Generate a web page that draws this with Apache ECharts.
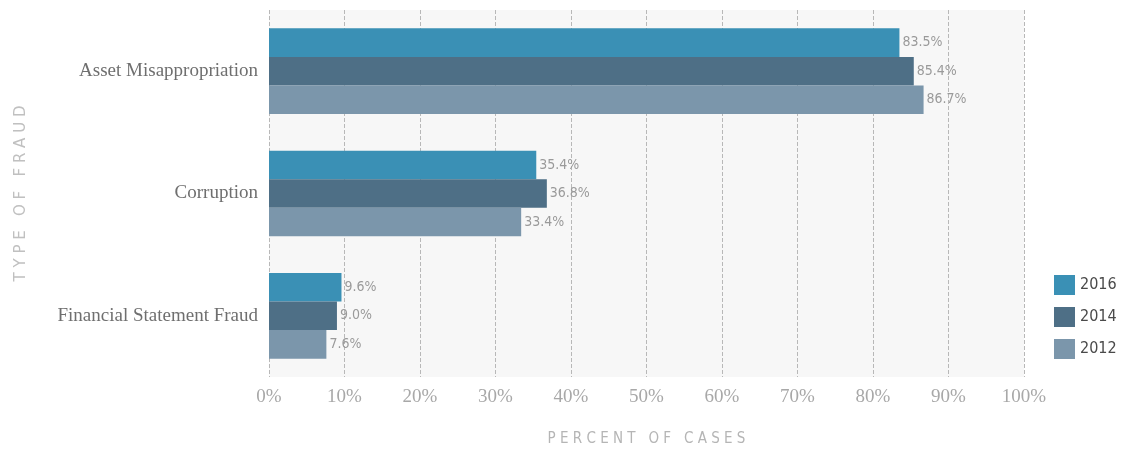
<!DOCTYPE html>
<html><head><meta charset="utf-8">
<script src="https://cdn.jsdelivr.net/npm/echarts@6/dist/echarts.min.js"></script>
<style>html,body{margin:0;padding:0;background:#fff}#c{width:1126px;height:455px}</style>
</head><body><div id="c"></div>
<script>
var categories = ['Asset Misappropriation', 'Corruption', 'Financial Statement Fraud'];
var years = ['2016', '2014', '2012'];
var values2016 = [83.5, 35.4, 9.6];
var values2014 = [85.4, 36.8, 9.0];
var values2012 = [86.7, 33.4, 7.6];
var colors = ['#3a90b5', '#4e6f86', '#7b96ab'];
var seriesValues = [values2016, values2014, values2012];

var chart = echarts.init(document.getElementById('c'));
chart.setOption({
  animation: false,
  backgroundColor: '#ffffff',
  grid: { left: 269, right: 102, top: 10, bottom: 78, show: true, backgroundColor: '#f7f7f7', borderWidth: 0 },
  legend: {
    orient: 'vertical', left: 1049, top: 270, icon: 'rect',
    itemWidth: 21, itemHeight: 20, itemGap: 12,
    data: years,
    textStyle: { fontFamily: 'DejaVu Sans Condensed', fontSize: 16, color: '#4a4a4a' }
  },
  xAxis: {
    type: 'value', min: 0, max: 100, interval: 10,
    axisLine: { show: false }, axisTick: { show: false },
    splitLine: { show: true, lineStyle: { type: 'dashed', color: '#b8b8b8', width: 1 } },
    axisLabel: { formatter: '{value}%', fontFamily: 'Liberation Serif', fontSize: 19, color: '#a8a8a8', margin: 11 },
    name: 'P E R C E N T   O F   C A S E S', nameLocation: 'middle', nameGap: 55,
    nameTextStyle: { fontFamily: 'DejaVu Sans Condensed', fontSize: 15, color: '#b5b5b5' }
  },
  yAxis: {
    type: 'category', data: categories, inverse: true,
    axisLine: { show: false }, axisTick: { show: false },
    axisLabel: { fontFamily: 'Liberation Serif', fontSize: 19, color: '#6f6f6f', margin: 11 },
    name: 'T Y P E   O F   F R A U D', nameLocation: 'middle', nameGap: 240, nameRotate: 90,
    nameTextStyle: { fontFamily: 'DejaVu Sans', fontSize: 15, color: '#c0c0c0' }
  },
  series: years.map(function (y, i) {
    return {
      name: y, type: 'bar', data: seriesValues[i],
      barGap: '0%', barCategoryGap: '30%',
      itemStyle: { color: colors[i] },
      label: {
        show: true, position: 'right', distance: 3,
        formatter: function (p) { return p.value.toFixed(1) + '%'; },
        fontFamily: 'DejaVu Sans Condensed', fontSize: 14, color: '#9a9a9a'
      }
    };
  })
});
</script></body></html>
